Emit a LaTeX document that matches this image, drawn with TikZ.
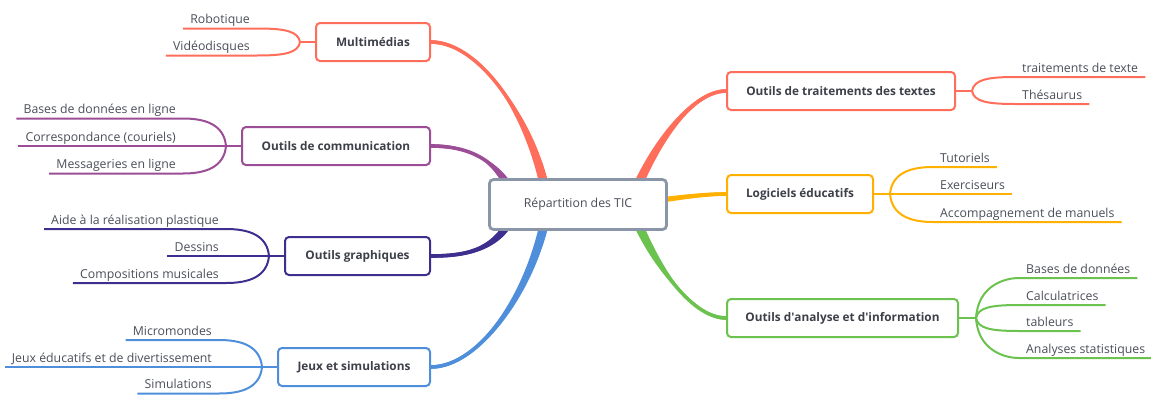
\documentclass[tikz,border=0pt]{standalone}
\usepackage{fontspec}
\setmainfont{Open Sans}
\usetikzlibrary{calc}
\pgfdeclarelayer{bg}
\pgfsetlayers{bg,main}
\definecolor{coral}{HTML}{FF6E5A}
\definecolor{purp}{HTML}{9B4D96}
\definecolor{indig}{HTML}{3E2E8E}
\definecolor{blu}{HTML}{4E8EDB}
\definecolor{oran}{HTML}{FFB000}
\definecolor{gree}{HTML}{6CC24E}
\definecolor{cgray}{HTML}{8A96A8}
\definecolor{txt}{HTML}{4A4E58}
\definecolor{ttxt}{HTML}{3D4049}
\tikzset{
 topic/.style={draw=#1, line width=2pt, rounded corners=4pt, fill=white, minimum height=38pt, inner sep=0pt, text=ttxt, font=\fontsize{11.8}{14}\selectfont\bfseries},
 leaf/.style={inner xsep=7pt, inner ysep=4.5pt, text depth=0pt, text=txt, font=\fontsize{12.3}{14}\selectfont},
 twig/.style={draw=#1, line width=2pt},
}
\newcommand\twigL[4]{\draw[twig=#1] (#2) .. controls ($(#2)+({-2},{0.8*(#4)})$) and ($(#2)+({-(0.5*abs(#4)+8)},{#4})$) .. (#3.south east) -- (#3.south west);}
\newcommand\twigR[4]{\draw[twig=#1] (#2) .. controls ($(#2)+({2},{0.8*(#4)})$) and ($(#2)+({0.5*abs(#4)+8},{#4})$) .. (#3.south west) -- (#3.south east);}
\newcommand\taper[7]{%
\draw[#1, line width=3.6pt] #2 .. controls ($#2+#3$) and ($#5+#4$) .. #5;
\fill[#1] ($#2+#6$) .. controls ($#2+#3+#6$) and ($#5+#4+#7$) .. ($#5+#7$) -- ($#5-#7$) .. controls ($#5+#4-#7$) and ($#2+#3-#6$) .. ($#2-#6$) -- cycle;}
\begin{document}
\begin{tikzpicture}[x=1pt,y=-1pt]
\useasboundingbox (0,0) rectangle (1151,394);
% central topic
\node[draw=cgray, line width=2.8pt, rounded corners=4pt, fill=white, minimum width=177pt, minimum height=50pt, text=txt, font=\fontsize{12.3}{14}\selectfont] (c) at (578,204.5) {Répartition des TIC};
% main topics
\node[topic=coral, minimum width=114pt, anchor=east] (mm) at (431,42) {Multimédias};
\node[topic=purp, minimum width=188pt, anchor=east] (com) at (431,146) {Outils de communication};
\node[topic=indig, minimum width=145pt, anchor=east] (gra) at (431,256) {Outils graphiques};
\node[topic=blu, minimum width=152pt, anchor=east] (jeu) at (431,367) {Jeux et simulations};
\node[topic=coral, minimum width=228pt, anchor=west] (tt) at (726,91) {Outils de traitements des textes};
\node[topic=oran, minimum width=146pt, anchor=west] (le) at (726,194) {Logiciels éducatifs};
\node[topic=gree, minimum width=231pt, anchor=west] (an) at (726,318) {Outils d\textquotesingle analyse et d\textquotesingle information};
% anchor points inside the central topic
\coordinate (cmm) at ($(c.center)+(-30,0)$);
\coordinate (ccom) at ($(c.center)+(-63,-4)$);
\coordinate (cgra) at ($(c.center)+(-63,6)$);
\coordinate (cjeu) at ($(c.center)+(-30,0)$);
\coordinate (ctt) at ($(c.center)+(52,0)$);
\coordinate (cle) at ($(c.center)+(52,0)$);
\coordinate (can) at ($(c.center)+(52,0)$);
% branch points
\coordinate (mmb) at ($(mm.west)+(-15,0)$);
\coordinate (comb) at ($(com.west)+(-15,0)$);
\coordinate (grab) at ($(gra.west)+(-15,0)$);
\coordinate (jeub) at ($(jeu.west)+(-15,0)$);
\coordinate (ttb) at ($(tt.east)+(16,0)$);
\coordinate (leb) at ($(le.east)+(16,0)$);
\coordinate (anb) at ($(an.east)+(17,0)$);
% leaves left
\node[leaf, anchor=south east] (mm1) at ($(mmb)+(-43,-13.5)$) {Robotique};
\node[leaf, anchor=south east] (mm2) at ($(mmb)+(-43,13.5)$) {Vidéodisques};
\node[leaf, anchor=south east] (com1) at ($(comb)+(-43,-27.5)$) {Bases de données en ligne};
\node[leaf, anchor=south east] (com2) at ($(comb)+(-43,0)$) {Correspondance (couriels)};
\node[leaf, anchor=south east] (com3) at ($(comb)+(-43,27.5)$) {Messageries en ligne};
\node[leaf, anchor=south east] (gra1) at ($(grab)+(-43,-27)$) {Aide à la réalisation plastique};
\node[leaf, anchor=south east] (gra2) at ($(grab)+(-43,0)$) {Dessins};
\node[leaf, anchor=south east] (gra3) at ($(grab)+(-43,27)$) {Compositions musicales};
\node[leaf, anchor=south east] (jeu1) at ($(jeub)+(-43,-27)$) {Micromondes};
\node[leaf, anchor=south east] (jeu2) at ($(jeub)+(-43,0)$) {Jeux éducatifs et de divertissement};
\node[leaf, anchor=south east] (jeu3) at ($(jeub)+(-43,26.5)$) {Simulations};
% leaves right
\node[leaf, anchor=south west] (tt1) at ($(ttb)+(43,-14)$) {traitements de texte};
\node[leaf, anchor=south west] (tt2) at ($(ttb)+(43,13)$) {Thésaurus};
\node[leaf, anchor=south west] (le1) at ($(leb)+(43,-27)$) {Tutoriels};
\node[leaf, anchor=south west] (le2) at ($(leb)+(43,0)$) {Exerciseurs};
\node[leaf, anchor=south west] (le3) at ($(leb)+(43,28)$) {Accompagnement de manuels};
\node[leaf, anchor=south west] (an1) at ($(anb)+(43,-40)$) {Bases de données};
\node[leaf, anchor=south west] (an2) at ($(anb)+(43,-13)$) {Calculatrices};
\node[leaf, anchor=south west] (an3) at ($(anb)+(43,13)$) {tableurs};
\node[leaf, anchor=south west] (an4) at ($(anb)+(43,40)$) {Analyses statistiques};
\begin{pgfonlayer}{bg}
% main tapered connectors
\taper{coral}{(mm.east)}{(49,0)}{(-13,-84)}{(cmm)}{(0,1.8)}{(4.8,0)}
\taper{purp}{(com.east)}{(39,0)}{(-15,-40)}{(ccom)}{(0,1.8)}{(4,-1.5)}
\taper{indig}{(gra.east)}{(39,0)}{(-15,38)}{(cgra)}{(0,1.8)}{(4,1.5)}
\taper{blu}{(jeu.east)}{(49,0)}{(-13,84)}{(cjeu)}{(0,1.8)}{(4.8,0)}
\taper{coral}{(tt.west)}{(-36,0)}{(20,-54)}{(ctt)}{(0,1.8)}{(4.5,1.7)}
\taper{oran}{(le.west)}{(-26,0)}{(35,-5)}{(cle)}{(0,1.8)}{(0,3)}
\taper{gree}{(an.west)}{(-36,0)}{(20,54)}{(can)}{(0,1.8)}{(4.5,-1.7)}
% stubs and twigs
\draw[twig=coral] (mm.west) -- (mmb);
\twigL{coral}{mmb}{mm1}{-13.5}
\twigL{coral}{mmb}{mm2}{13.5}
\draw[twig=purp] (com.west) -- (comb);
\twigL{purp}{comb}{com1}{-27.5}
\twigL{purp}{comb}{com2}{0}
\twigL{purp}{comb}{com3}{27.5}
\draw[twig=indig] (gra.west) -- (grab);
\twigL{indig}{grab}{gra1}{-27}
\twigL{indig}{grab}{gra2}{0}
\twigL{indig}{grab}{gra3}{27}
\draw[twig=blu] (jeu.west) -- (jeub);
\twigL{blu}{jeub}{jeu1}{-27}
\twigL{blu}{jeub}{jeu2}{0}
\twigL{blu}{jeub}{jeu3}{26.5}
\draw[twig=coral] (tt.east) -- (ttb);
\twigR{coral}{ttb}{tt1}{-14}
\twigR{coral}{ttb}{tt2}{13}
\draw[twig=oran] (le.east) -- (leb);
\twigR{oran}{leb}{le1}{-27}
\twigR{oran}{leb}{le2}{0}
\twigR{oran}{leb}{le3}{28}
\draw[twig=gree] (an.east) -- (anb);
\twigR{gree}{anb}{an1}{-40}
\twigR{gree}{anb}{an2}{-13}
\twigR{gree}{anb}{an3}{13}
\twigR{gree}{anb}{an4}{40}
\end{pgfonlayer}
\end{tikzpicture}
\end{document}
